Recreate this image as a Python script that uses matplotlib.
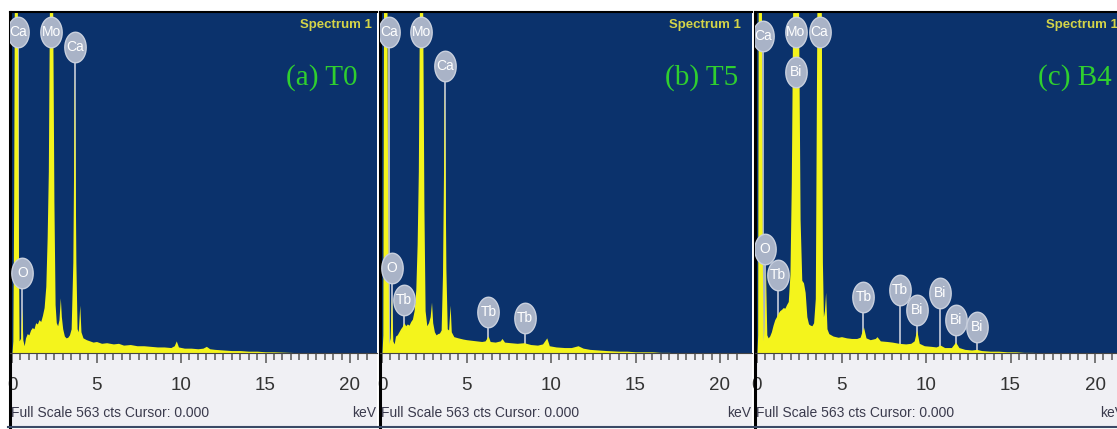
import matplotlib
matplotlib.use('Agg')
import matplotlib.pyplot as plt
from matplotlib.path import Path
from matplotlib.lines import Line2D
import numpy as np

# ---- spectra (keV, counts) ----
t0_kev = [0.00, 0.05, 0.10, 0.15, 0.30, 0.36, 0.42, 0.52, 0.58, 0.64, 0.72, 0.80, 0.90, 1.00,
          1.10, 1.20, 1.30, 1.40, 1.50, 1.60, 1.70, 1.80, 1.90, 2.00, 2.08, 2.15, 2.22, 2.40,
          2.48, 2.55, 2.62, 2.70, 2.78, 2.86, 2.92, 3.00, 3.10, 3.20, 3.30, 3.40, 3.50, 3.60,
          3.69, 3.78, 3.85, 3.92, 4.01, 4.08, 4.20, 4.40, 4.60, 4.80, 5.00, 5.30, 5.60, 6.00,
          6.30, 6.60, 7.00, 7.40, 7.80, 8.20, 8.60, 9.00, 9.40, 9.60, 9.72, 9.85, 10.2, 10.6,
          11.0, 11.3, 11.5, 11.7, 12.0, 12.5, 13.0, 13.5, 14.0, 14.5, 15.0, 15.5, 16.0, 16.5,
          17.0, 17.5, 21.8]
t0_cts = [0, 20, 250, 700, 700, 250, 20, 25, 75, 22, 12, 25, 32, 30,
          38, 42, 40, 50, 48, 55, 52, 62, 75, 110, 190, 300, 600, 600,
          250, 80, 50, 45, 55, 91, 60, 40, 28, 25, 26, 30, 40, 150,
          462, 150, 40, 35, 79, 35, 25, 22, 20, 18, 19, 16, 17, 15,
          16, 13, 14, 12, 12, 11, 10, 10, 9, 12, 20, 10, 8, 8,
          7, 8, 11, 7, 6, 5, 4, 4, 3, 3, 2, 2, 1.5, 1,
          0.5, 0, 0]

t5_kev = [0.00, 0.05, 0.10, 0.28, 0.34, 0.40, 0.48, 0.56, 0.64, 0.72, 0.80, 0.90, 1.00, 1.10,
          1.20, 1.30, 1.40, 1.50, 1.60, 1.70, 1.80, 1.90, 2.00, 2.08, 2.15, 2.22, 2.40, 2.48,
          2.55, 2.65, 2.75, 2.85, 2.93, 3.00, 3.10, 3.20, 3.30, 3.40, 3.50, 3.58, 3.69, 3.78,
          3.86, 3.94, 4.03, 4.10, 4.25, 4.50, 4.80, 5.00, 5.30, 5.60, 5.90, 6.10, 6.28, 6.40,
          6.70, 7.00, 7.10, 7.25, 7.60, 8.00, 8.40, 8.80, 9.20, 9.50, 9.75, 9.90, 10.3, 10.8,
          11.2, 11.6, 11.9, 12.3, 12.8, 13.3, 14.0, 14.5, 15.0, 15.5, 16.0, 16.5, 17.0, 17.5,
          21.8]
t5_cts = [0, 30, 700, 700, 200, 15, 25, 92, 20, 15, 28, 30, 35, 40,
          44, 50, 45, 48, 46, 52, 56, 70, 105, 180, 300, 600, 600, 240,
          70, 45, 50, 60, 84, 50, 35, 30, 32, 33, 38, 130, 440, 140,
          40, 38, 79, 35, 27, 25, 23, 22, 21, 20, 19, 20, 28, 19,
          18, 20, 24, 18, 17, 16, 17, 14, 13, 15, 25, 12, 10, 9,
          9, 12, 8, 6, 5, 4, 3, 3, 2, 2, 2, 1, 1, 0,
          0]

b4_kev = [0.00, 0.04, 0.08, 0.25, 0.30, 0.36, 0.42, 0.50, 0.58, 0.66, 0.75, 0.85, 0.95, 1.05,
          1.15, 1.25, 1.35, 1.45, 1.55, 1.65, 1.75, 1.85, 1.95, 2.03, 2.12, 2.45, 2.55, 2.65,
          2.75, 2.85, 2.95, 3.05, 3.15, 3.25, 3.35, 3.45, 3.55, 3.80, 3.87, 3.93, 3.99, 4.06,
          4.14, 4.25, 4.50, 4.80, 5.00, 5.30, 5.60, 5.90, 6.10, 6.30, 6.45, 6.70, 7.00, 7.10,
          7.30, 7.70, 8.00, 8.40, 8.80, 9.10, 9.30, 9.45, 9.60, 9.90, 10.3, 10.6, 10.85, 11.1,
          11.5, 11.75, 11.95, 12.3, 12.7, 13.0, 13.3, 13.8, 14.3, 14.8, 15.3, 15.8, 16.3, 17.0,
          21.8]
b4_cts = [0, 30, 700, 700, 200, 20, 40, 140, 30, 25, 28, 35, 46, 55,
          60, 66, 70, 72, 75, 74, 80, 85, 130, 280, 600, 600, 220, 120,
          116, 100, 60, 48, 46, 45, 50, 90, 600, 600, 150, 60, 70, 100,
          40, 32, 28, 26, 27, 25, 24, 24, 26, 43, 25, 22, 24, 27,
          20, 19, 18, 16, 15, 16, 20, 38, 16, 12, 11, 10, 13, 9,
          9, 18, 9, 6, 5, 6, 4, 3, 3, 2, 2, 1, 1, 0,
          0]

# element markers: name, keV, label height (cts)
t0_lab = ['Ca', 'Mo', 'Ca', 'O']
t0_lab_kev = [0.38, 2.32, 3.72, 0.62]
t0_lab_cts = [530, 530, 505, 132]

t5_lab = ['Ca', 'Mo', 'Ca', 'O', 'Tb', 'Tb', 'Tb']
t5_lab_kev = [0.40, 2.32, 3.72, 0.58, 1.32, 6.30, 8.45]
t5_lab_cts = [530, 530, 474, 141, 88, 68, 58]

b4_lab = ['Ca', 'Mo', 'Bi', 'Ca', 'O', 'Tb', 'Tb', 'Tb', 'Bi', 'Bi', 'Bi', 'Bi']
b4_lab_kev = [0.38, 2.30, 2.30, 3.70, 0.48, 1.26, 6.30, 8.45, 9.45, 10.85, 11.75, 13.0]
b4_lab_cts = [523, 530, 464, 530, 171, 129, 93, 104, 71, 99, 55, 43]

panel_names = ['(a) T0', '(b) T5', '(c) B4']
full_scale = 563

# ---- layout (pixels) ----
W, H, DPI = 1117, 429, 100
TOP, BASE, BOT = 12, 353, 427
ppk = 16.9
lefts = [10, 380, 755]
rights = [377, 752, 1125]
spec_x = [0.986, 0.970, 0.981]
name_x = [0.948, 0.962, 0.965]

SANS = 'Liberation Sans'
BLUE = '#0b326c'
YELLOW = '#f4f41c'
STRIP = '#f0f0f4'

ymin = -full_scale * (BOT - BASE) / (BASE - TOP)

th = np.linspace(0, 2 * np.pi, 41)
ell = Path(np.column_stack([0.7 * np.cos(th), np.sin(th)]), closed=True)

fig = plt.figure(figsize=(W / DPI, H / DPI), dpi=DPI)
fig.patch.set_facecolor('white')

data = [(t0_kev, t0_cts, t0_lab, t0_lab_kev, t0_lab_cts),
        (t5_kev, t5_cts, t5_lab, t5_lab_kev, t5_lab_cts),
        (b4_kev, b4_cts, b4_lab, b4_lab_kev, b4_lab_cts)]

for i, (kev, cts, lab, lkev, lcts) in enumerate(data):
    l, r = lefts[i], rights[i]
    ax = fig.add_axes([l / W, (H - BOT) / H, (r - l) / W, (BOT - TOP) / H])
    ax.set_facecolor(STRIP)
    x0 = -2 / ppk
    x1 = x0 + (r - l) / ppk
    ax.set_xlim(x0, x1)
    ax.set_ylim(ymin, full_scale)
    ax.axhspan(0, full_scale, color=BLUE, zorder=0.5, lw=0)

    # stems under the spectrum, labels above it
    ax.vlines(lkev, 0, lcts, color='#b9c1d2', lw=1.3, zorder=1)
    ax.fill_between(kev, cts, 0, color=YELLOW, lw=0, zorder=2)
    ax.plot(lkev, lcts, ls='none', marker=ell, markersize=22,
            mfc='#a9b3c7', mec='#c9d0de', mew=1, zorder=4)
    for name, xk, yc in zip(lab, lkev, lcts):
        ax.text(xk, yc, name, color='white', fontsize=10, family=SANS,
                ha='center', va='center', zorder=5)

    ax.text(spec_x[i], 0.969, 'Spectrum 1', transform=ax.transAxes, color='#d4d448',
            fontsize=9.5, fontweight='bold', family=SANS, ha='right', va='center', zorder=6)
    ax.text(name_x[i], 0.843, panel_names[i], transform=ax.transAxes, color='#2fcf2f',
            fontsize=21, family='Liberation Serif', ha='right', va='center', zorder=6)

    # axis strip
    ax.spines['bottom'].set_position(('data', 0))
    ax.spines['bottom'].set_color('#444444')
    ax.spines['bottom'].set_linewidth(0.8)
    ax.spines['right'].set_visible(False)
    ax.spines['top'].set_color('black')
    ax.spines['top'].set_linewidth(1.5)
    ax.spines['left'].set_color('black')
    ax.spines['left'].set_linewidth(2.2)
    ax.set_xticks([0, 5, 10, 15, 20])
    ax.set_xticks(np.arange(0, 21.5, 0.5), minor=True)
    ax.set_xticklabels(['0', '5', '10', '15', '20'])
    ax.tick_params(axis='x', which='major', length=7, width=1.1, color='#555555',
                   pad=10, labelsize=13.5, labelcolor='#333333')
    ax.tick_params(axis='x', which='minor', length=5, width=1.1, color='#555555')
    for t in ax.get_xticklabels():
        t.set_family(SANS)
    ax.set_yticks([])

    yt = full_scale * (BASE - 413) / (BASE - TOP)
    ax.text(x0 + 1 / ppk, yt, 'Full Scale 563 cts Cursor: 0.000', color='#3a3a4c',
            fontsize=10, family=SANS, ha='left', va='center')
    ax.text(x1 - 1 / ppk, yt, 'keV', color='#3a3a4c',
            fontsize=10, family=SANS, ha='right', va='center')

# bottom border
fig.add_artist(Line2D([0.007, 1], [(H - BOT) / H] * 2, color='#3a4a66', lw=1.5, zorder=10))

fig.savefig('out.png', dpi=DPI, facecolor='white')
